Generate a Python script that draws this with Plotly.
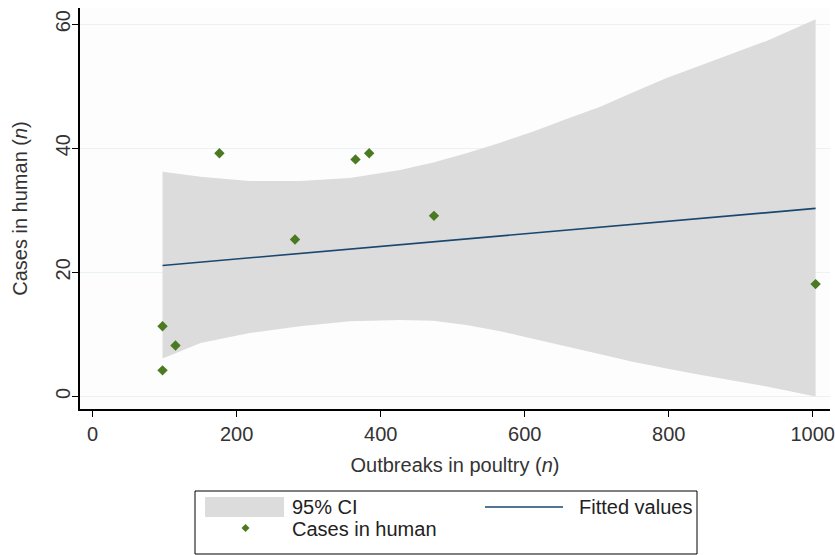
import plotly.graph_objects as go

outbreaks_poultry = [97, 115, 97, 176, 281, 365, 384, 474, 1004]
cases_human = [4.2, 8.2, 11.3, 39.2, 25.3, 38.2, 39.2, 29.1, 18.1]

# Fitted line (endpoints)
fit_x = [97, 1004]
fit_y = [21.1, 30.3]

# 95% CI band edges
ci_x = [97, 150, 218, 288, 357, 427, 473, 519, 566, 612, 658, 705, 750, 797, 843, 890, 936, 1004]
ci_upper = [36.2, 35.4, 34.7, 34.7, 35.2, 36.5, 37.7, 39.2, 40.9, 42.7, 44.7, 46.7, 49.0, 51.3, 53.3, 55.3, 57.3, 60.8]
ci_lower = [6.1, 8.6, 10.2, 11.3, 12.1, 12.3, 12.2, 11.5, 10.5, 9.3, 8.05, 6.8, 5.6, 4.5, 3.5, 2.5, 1.6, 0.0]

x_ticks = [0, 200, 400, 600, 800, 1000]
y_ticks = [0, 20, 40, 60]

legend_labels = ["95% CI", "Fitted values", "Cases in human"]

FONT = "Liberation Sans, Arial, sans-serif"
BAND = "#dcdcdc"
LINE = "#1a476f"
DOT = "#4b7a22"

W, H = 835, 555
ML, MR, MT, MB = 80, 5, 8, 146
PW, PH = W - ML - MR, H - MT - MB


def px(xp):
    return (xp - ML) / PW


def py(yp):
    return (H - MB - yp) / PH


fig = go.Figure()

band_x = ci_x + ci_x[::-1]
band_y = ci_upper + ci_lower[::-1]
fig.add_trace(go.Scatter(
    x=band_x, y=band_y, fill="toself", mode="lines",
    line=dict(width=0, color=BAND), fillcolor=BAND,
    name=legend_labels[0], hoverinfo="skip",
))
fig.add_trace(go.Scatter(
    x=fit_x, y=fit_y, mode="lines",
    line=dict(color=LINE, width=1.6),
    name=legend_labels[1],
))
fig.add_trace(go.Scatter(
    x=outbreaks_poultry, y=cases_human, mode="markers",
    marker=dict(symbol="diamond", size=8, color=DOT),
    name=legend_labels[2],
))

# Legend box drawn in paper space (Stata-style two-column legend)
shapes = [
    dict(type="rect", xref="paper", yref="paper",
         x0=px(195), x1=px(697), y0=py(554), y1=py(491),
         line=dict(color="black", width=1), fillcolor="white"),
    dict(type="rect", xref="paper", yref="paper",
         x0=px(205), x1=px(284), y0=py(517), y1=py(497),
         line=dict(width=0), fillcolor=BAND),
    dict(type="line", xref="paper", yref="paper",
         x0=px(485), x1=px(563), y0=py(507), y1=py(507),
         line=dict(color=LINE, width=1.6)),
    dict(type="path", xref="paper", yref="paper",
         path="M {a},{c} L {b},{d} L {e},{c} L {b},{f} Z".format(
             a=px(241.5), b=px(245.5), e=px(249.5),
             c=py(528), d=py(524), f=py(532)),
         line=dict(width=0), fillcolor=DOT),
]
annotations = [
    dict(text=legend_labels[0], x=px(290), y=py(507)),
    dict(text=legend_labels[1], x=px(577), y=py(507)),
    dict(text=legend_labels[2], x=px(290), y=py(529)),
]
for a in annotations:
    a.update(xref="paper", yref="paper", xanchor="left", yanchor="middle",
             showarrow=False, font=dict(family=FONT, size=20, color="#222222"))

fig.update_layout(
    width=W, height=H,
    margin=dict(l=ML, r=MR, t=MT, b=MB, autoexpand=False),
    paper_bgcolor="white", plot_bgcolor="#fdfdfd",
    font=dict(family=FONT, size=20, color="#333333"),
    showlegend=False,
    shapes=shapes,
    annotations=annotations,
)
fig.update_xaxes(
    range=[-17.6, 1024], tickvals=x_ticks, ticks="outside", ticklen=6,
    tickcolor="black", showline=True, linecolor="black", linewidth=1.5,
    showgrid=False, zeroline=False, ticklabelstandoff=0, automargin=False,
    title=dict(text="Outbreaks in poultry (<i>n</i>)", standoff=14,
               font=dict(size=20)),
)
fig.update_yaxes(
    range=[-2.03, 62.6], tickvals=y_ticks, ticks="outside", ticklen=6,
    tickcolor="black", showline=True, linecolor="black", linewidth=1.5,
    showgrid=True, gridcolor="#eaf2f3", gridwidth=1, zeroline=False,
    tickangle=-90, ticklabelstandoff=-6, automargin=False,
    title=dict(text="Cases in human (<i>n</i>)", standoff=19,
               font=dict(size=20)),
)

fig.write_html("out.html",
               config={"displayModeBar": False},
               post_script="document.body.style.margin='0px';")
